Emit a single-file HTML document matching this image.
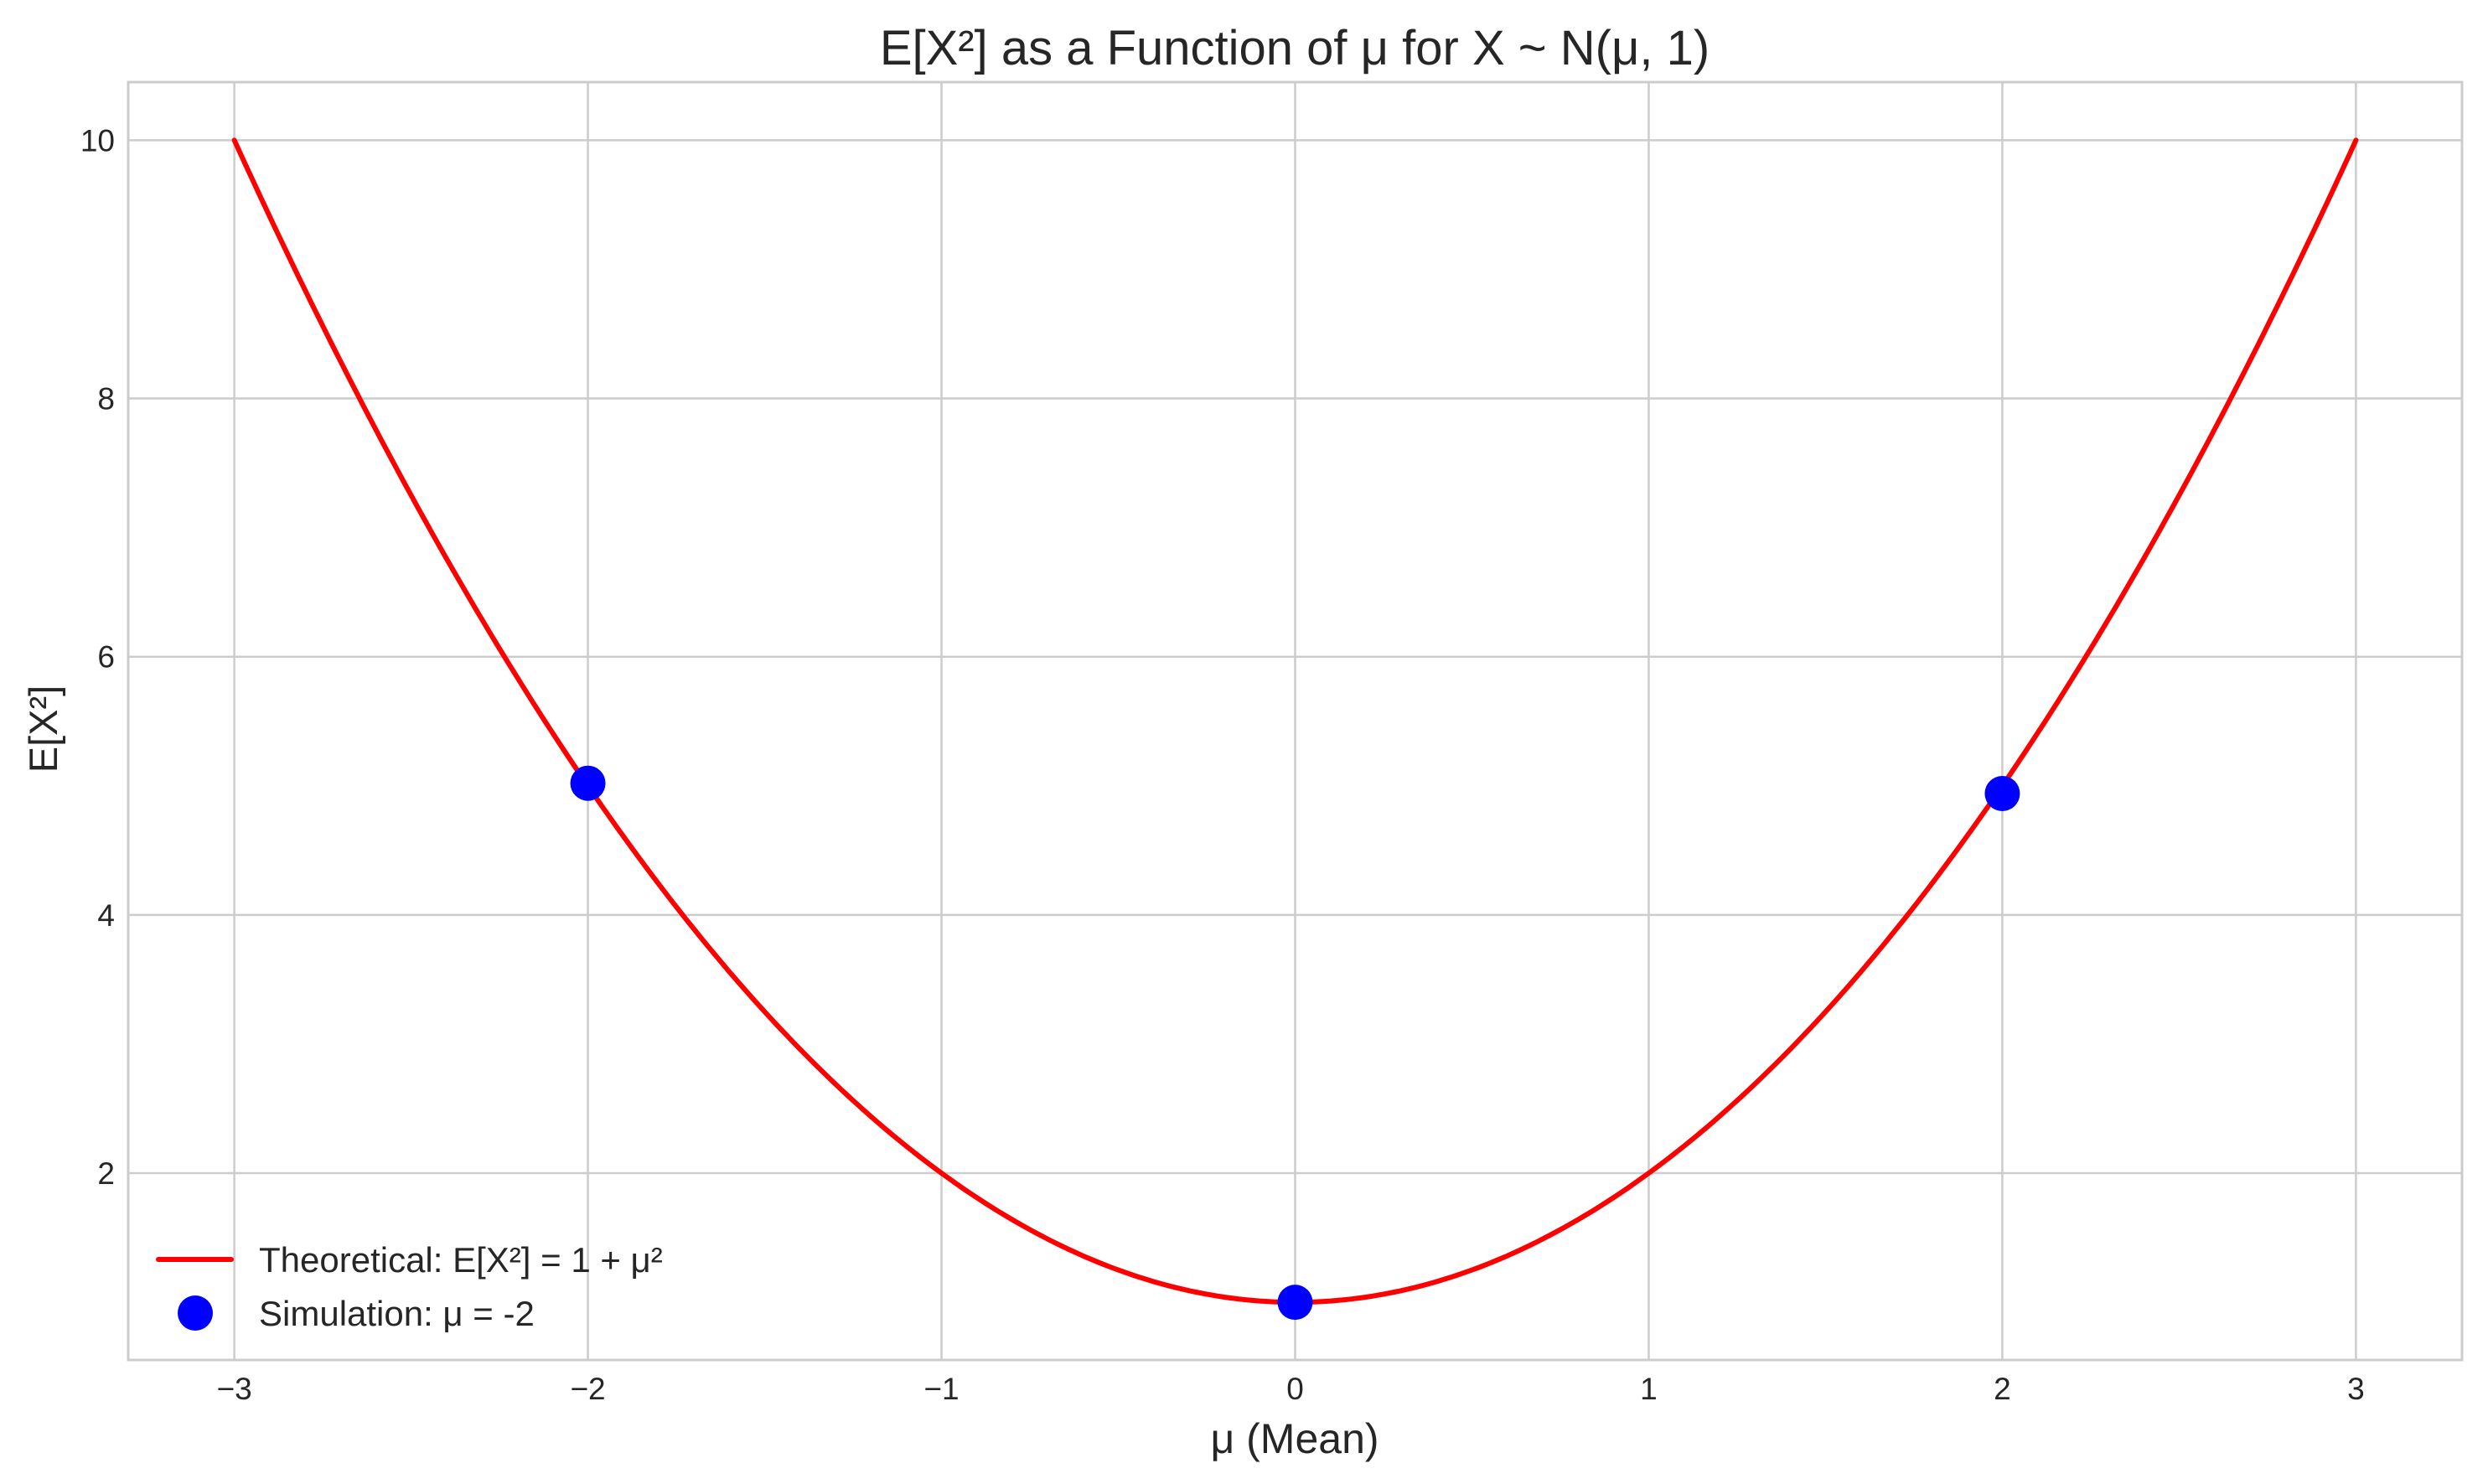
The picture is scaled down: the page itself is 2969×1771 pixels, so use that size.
<!DOCTYPE html>
<html><head><meta charset="utf-8"><style>
body{margin:0;background:#fff}
svg{display:block;font-family:"Liberation Sans",sans-serif}
</style></head><body>
<svg id="chart" width="2969" height="1771" xmlns="http://www.w3.org/2000/svg">
<rect width="2969" height="1771" fill="#fff"/>
<g id="grid"></g>
<g id="ticks"></g>
<rect x="153" y="98" width="2785" height="1525" fill="none" stroke="#cccccc" stroke-width="3"/>
<path id="curve" fill="none" stroke="#ff0000" stroke-width="6" stroke-linecap="round" stroke-linejoin="round"/>
<g id="points"></g>
<text x="1545" y="77" font-size="58" text-anchor="middle" fill="#262626">E[X²] as a Function of μ for X ~ N(μ, 1)</text>
<text x="1545" y="1734" font-size="50" text-anchor="middle" fill="#262626">μ (Mean)</text>
<text transform="translate(68,870) rotate(-90)" font-size="47" text-anchor="middle" fill="#262626">E[X²]</text>
<g>
<line x1="189" y1="1503" x2="276" y2="1503" stroke="#ff0000" stroke-width="6" stroke-linecap="round"/>
<text x="309" y="1518" font-size="42" fill="#262626">Theoretical: E[X²] = 1 + μ²</text>
<circle cx="233" cy="1567" r="21" fill="#0000ff"/>
<text x="309" y="1582" font-size="42" fill="#262626">Simulation: μ = -2</text>
</g>
</svg>
<script>
const xTicks=[-3,-2,-1,0,1,2,3];
const xTickLabels=["−3","−2","−1","0","1","2","3"];
const yTicks=[2,4,6,8,10];
const yTickLabels=["2","4","6","8","10"];
const simX=[-2,0,2];
const simY=[5.02,1.0,4.94];
const curveRange=[-3,3];
const X0=153,X1=2938,Y0=1623,Y1=98,xmin=-3.3,xmax=3.3,ymin=0.553,ymax=10.45;
function sx(v){return X0+(v-xmin)/(xmax-xmin)*(X1-X0);}
function sy(v){return Y0-(v-ymin)/(ymax-ymin)*(Y0-Y1);}
const NS="http://www.w3.org/2000/svg";
const grid=document.getElementById('grid'),ticks=document.getElementById('ticks');
xTicks.forEach((t,i)=>{
 const l=document.createElementNS(NS,'line');
 
 
 l.setAttribute('x1',sx(t));l.setAttribute('x2',sx(t));l.setAttribute('y1',Y1);l.setAttribute('y2',Y0);
 l.setAttribute('stroke','#cccccc');l.setAttribute('stroke-width','2.5');grid.appendChild(l);
 const tx=document.createElementNS(NS,'text');
 
 
 tx.setAttribute('x',sx(t));tx.setAttribute('y',1670);tx.setAttribute('font-size','37');
 tx.setAttribute('text-anchor','middle');tx.setAttribute('fill','#262626');tx.textContent=xTickLabels[i];ticks.appendChild(tx);
});
yTicks.forEach((t,i)=>{
 const l=document.createElementNS(NS,'line');
 
 
 l.setAttribute('x1',X0);l.setAttribute('x2',X1);l.setAttribute('y1',sy(t));l.setAttribute('y2',sy(t));
 l.setAttribute('stroke','#cccccc');l.setAttribute('stroke-width','2.5');grid.appendChild(l);
 const tx=document.createElementNS(NS,'text');
 
 
 tx.setAttribute('x',137);tx.setAttribute('y',sy(t)+13);tx.setAttribute('font-size','37');
 tx.setAttribute('text-anchor','end');tx.setAttribute('fill','#262626');tx.textContent=yTickLabels[i];ticks.appendChild(tx);
});
let d='';
for(let i=0;i<=300;i++){const m=curveRange[0]+(curveRange[1]-curveRange[0])*i/300;d+=(i?'L':'M')+sx(m).toFixed(1)+','+sy(1+m*m).toFixed(1);}
document.getElementById('curve').setAttribute('d',d);
const pts=document.getElementById('points');
simX.forEach((x,i)=>{
 const c=document.createElementNS(NS,'circle');
 
 
 c.setAttribute('cx',sx(x));c.setAttribute('cy',sy(simY[i]));c.setAttribute('r','21');c.setAttribute('fill','#0000ff');pts.appendChild(c);
});
</script>
</body></html>
